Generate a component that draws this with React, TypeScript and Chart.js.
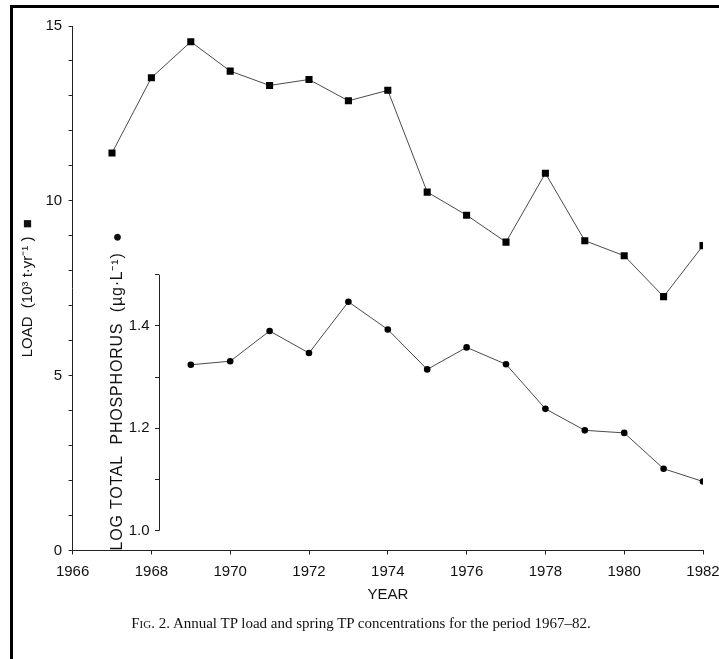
import React, { useEffect, useRef } from "react";
import { Chart, registerables } from "chart.js";

Chart.register(...registerables);

// Annual total-phosphorus load (10^3 t/yr), 1967-82
const loadYears = [1967, 1968, 1969, 1970, 1971, 1972, 1973, 1974, 1975, 1976, 1977, 1978, 1979, 1980, 1981, 1982];
const loadValues = [11.37, 13.52, 14.55, 13.71, 13.3, 13.47, 12.86, 13.16, 10.25, 9.59, 8.82, 10.79, 8.86, 8.43, 7.26, 8.72];

// Spring log total phosphorus (ug/L), 1969-82
const tpYears = [1969, 1970, 1971, 1972, 1973, 1974, 1975, 1976, 1977, 1978, 1979, 1980, 1981, 1982];
const tpValues = [1.324, 1.331, 1.39, 1.347, 1.447, 1.393, 1.315, 1.358, 1.325, 1.238, 1.196, 1.191, 1.121, 1.096];

const yearTickLabels = [1966, 1968, 1970, 1972, 1974, 1976, 1978, 1980, 1982];
const loadTickLabels = [0, 5, 10, 15];
const tpTickMarks = [1.0, 1.1, 1.2, 1.3, 1.4, 1.5];
const tpTickLabels = [1.0, 1.2, 1.4];

const xTitle = "YEAR";
const loadTitle = "LOAD  (10\u00B3 t\u00B7yr\u207B\u00B9 )  \u25A0";
const tpTitle = "LOG TOTAL  PHOSPHORUS  (\u00B5g\u00B7L\u207B\u00B9)  \u25CF";

// the concentration axis sits inside the plot, just right of 1968
const TP_AXIS_YEAR = 1968.2;

const FONT = "'Liberation Sans', Arial, Helvetica, sans-serif";
const INK = "#111";
const LINE = "#4a4a4a";

// Draws the short concentration axis: spine, tick labels and rotated title.
const innerAxisPlugin = {
  id: "innerAxis",
  afterDraw(chart: any) {
    const tp = chart.scales.tp;
    const x = chart.scales.x;
    const ctx = chart.ctx;
    const ax = Math.round(x.getPixelForValue(TP_AXIS_YEAR)) + 0.5;
    const yTop = tp.getPixelForValue(tpTickMarks[tpTickMarks.length - 1]);
    const yBot = tp.getPixelForValue(tpTickMarks[0]);
    ctx.save();
    ctx.strokeStyle = "#222";
    ctx.lineWidth = 1;
    ctx.beginPath();
    ctx.moveTo(ax, yTop);
    ctx.lineTo(ax, yBot);
    ctx.stroke();

    ctx.fillStyle = INK;
    ctx.font = `15px ${FONT}`;
    ctx.textAlign = "right";
    ctx.textBaseline = "middle";
    for (const v of tpTickLabels) {
      ctx.fillText(v.toFixed(1), ax - 10, tp.getPixelForValue(v));
    }

    // rotated axis title, reading upward from the plot floor
    ctx.translate(ax - 42, chart.chartArea.bottom);
    ctx.rotate(-Math.PI / 2);
    ctx.font = `16px ${FONT}`;
    (ctx as any).letterSpacing = "0.8px";
    ctx.textAlign = "left";
    ctx.fillText(tpTitle, 0, 0);
    ctx.restore();
  },
};

export default function App() {
  const canvasRef = useRef<HTMLCanvasElement | null>(null);

  useEffect(() => {
    const canvas = canvasRef.current;
    if (!canvas) return;
    const chart = new Chart(canvas, {
      type: "line",
      data: {
        datasets: [
          {
            label: "Load",
            data: loadYears.map((yr, i) => ({ x: yr, y: loadValues[i] })),
            yAxisID: "y",
            borderColor: LINE,
            borderWidth: 1,
            pointStyle: "rect",
            pointRadius: 5,
            pointBackgroundColor: "#000",
            pointBorderColor: "#000",
            pointBorderWidth: 0,
            tension: 0,
          },
          {
            label: "Log TP",
            data: tpYears.map((yr, i) => ({ x: yr, y: tpValues[i] })),
            yAxisID: "tp",
            borderColor: LINE,
            borderWidth: 1,
            pointStyle: "circle",
            pointRadius: 3.3,
            pointBackgroundColor: "#000",
            pointBorderColor: "#000",
            pointBorderWidth: 0,
            tension: 0,
          },
        ],
      },
      options: {
        responsive: false,
        animation: false,
        events: [],
        layout: { padding: { left: 0, top: 26, right: 37, bottom: 9.5 } },
        plugins: { legend: { display: false }, tooltip: { enabled: false } },
        scales: {
          x: {
            type: "linear",
            min: 1966,
            max: 1982,
            afterFit: (s: any) => {
              s.height = 60;
            },
            afterBuildTicks: (s: any) => {
              s.ticks = yearTickLabels.map((v) => ({ value: v }));
            },
            ticks: {
              autoSkip: false,
              maxRotation: 0,
              padding: 8.5,
              color: INK,
              font: { family: FONT, size: 15 },
              callback: (v: any) => String(v),
            },
            grid: { drawOnChartArea: false, drawTicks: true, tickLength: 4, color: "#222" },
            border: { display: true, color: "#222", width: 1 },
            title: {
              display: true,
              text: xTitle,
              color: INK,
              font: { family: FONT, size: 15 },
              padding: { top: 0, bottom: 6.5 },
            },
          },
          y: {
            type: "linear",
            position: "left",
            min: 0,
            max: 15,
            afterFit: (s: any) => {
              s.width = 72.6;
            },
            afterBuildTicks: (s: any) => {
              const t = [];
              for (let v = 0; v <= 15; v++) t.push({ value: v });
              s.ticks = t;
            },
            ticks: {
              autoSkip: false,
              padding: 6.5,
              color: INK,
              font: { family: FONT, size: 15 },
              callback: (v: any) => (loadTickLabels.includes(v) ? String(v) : ""),
            },
            grid: { drawOnChartArea: false, drawTicks: true, tickLength: 4, color: "#222" },
            border: { display: true, color: "#222", width: 1 },
            title: {
              display: true,
              text: loadTitle,
              color: INK,
              font: { family: FONT, size: 15 },
              padding: { top: 19, bottom: 0 },
            },
          },
          tp: {
            type: "linear",
            position: { x: TP_AXIS_YEAR } as any,
            min: 0.9613,
            max: 1.9857,
            afterBuildTicks: (s: any) => {
              s.ticks = tpTickMarks.map((v) => ({ value: v }));
            },
            ticks: { display: false },
            grid: { drawOnChartArea: false, drawTicks: true, tickLength: 4, color: "#222" },
            border: { display: false },
            title: { display: false },
          },
        },
      } as any,
      plugins: [innerAxisPlugin],
    });
    return () => chart.destroy();
  }, []);

  return (
    <div
      style={{
        position: "fixed",
        left: 0,
        top: 0,
        width: 719,
        height: 659,
        overflow: "hidden",
        background: "#fff",
      }}
    >
      <div
        style={{
          position: "absolute",
          left: 10,
          top: 5,
          width: 800,
          height: 800,
          borderTop: "3px solid #000",
          borderLeft: "3px solid #000",
        }}
      />
      <canvas
        ref={canvasRef}
        width={740}
        height={620}
        style={{ position: "absolute", left: 0, top: 0, width: 740, height: 620 }}
      />
      <div
        style={{
          position: "absolute",
          left: 0,
          top: 615,
          width: 722,
          textAlign: "center",
          fontFamily: "'Liberation Serif', 'Times New Roman', serif",
          fontSize: 15,
          color: "#111",
          whiteSpace: "nowrap",
        }}
      >
        <span style={{ fontVariant: "small-caps" }}>Fig.</span> 2. Annual TP load and spring TP concentrations for the
        period 1967–82.
      </div>
    </div>
  );
}
